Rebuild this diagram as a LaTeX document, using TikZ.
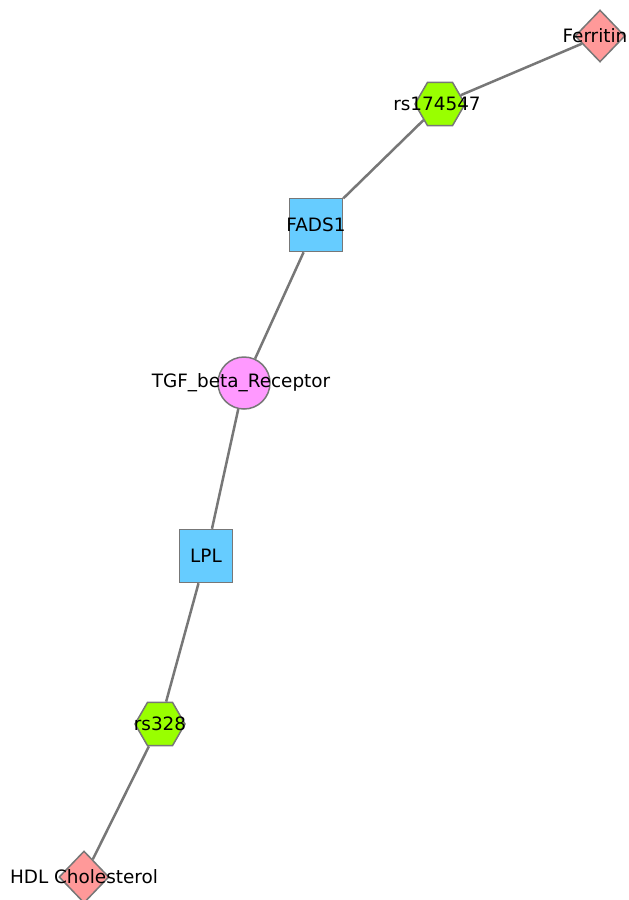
\documentclass[tikz,border=0pt]{standalone}
\usepackage{fontspec}
\setmainfont{DejaVu Sans}
\usetikzlibrary{shapes.geometric}

\definecolor{edgegray}{HTML}{777777}
\definecolor{traitpink}{HTML}{FF9999}
\definecolor{snpgreen}{HTML}{99FF00}
\definecolor{genesky}{HTML}{66CCFF}
\definecolor{pathviolet}{HTML}{FF99FF}

\begin{document}
\begin{tikzpicture}[
  x=1pt, y=-1pt,
  lbl/.style={font=\fontsize{18.4}{19}\selectfont, text=black, inner sep=0pt},
  trait/.style={draw=edgegray, line width=1.5pt, fill=traitpink, diamond, inner sep=0pt, minimum width=50pt, minimum height=52pt},
  snp/.style={draw=edgegray, line width=1.5pt, fill=snpgreen, regular polygon, regular polygon sides=6, inner sep=0pt, minimum size=50pt},
  gene/.style={draw=edgegray, line width=1.5pt, fill=genesky, rectangle, inner sep=0pt, minimum size=53pt},
  pathway/.style={draw=edgegray, line width=1.5pt, fill=pathviolet, circle, inner sep=0pt, minimum size=52pt},
  link/.style={draw=edgegray, line width=2.5pt}
]
\useasboundingbox (0,0) rectangle (629,900);

% trait -- snp -- gene -- pathway chain
\node[trait] (ferritin) at (600,36) {};
\node[snp] (rsA) at (440,104) {};
\node[gene] (fads) at (316,225) {};
\node[pathway] (tgf) at (244,383) {};
\node[gene] (lpl) at (206,556) {};
\node[snp] (rsB) at (160,724) {};
\node[trait] (hdl) at (84,877) {};

\draw[link] (ferritin) -- (rsA);
\draw[link] (rsA) -- (fads);
\draw[link] (fads) -- (tgf);
\draw[link] (tgf) -- (lpl);
\draw[link] (lpl) -- (rsB);
\draw[link] (rsB) -- (hdl);

% labels sit on top of the shapes
\node[lbl] (ferritinlbl) at (595,36) {Ferritin};
\node[lbl] (rsAlbl) at (437,104) {rs174547};
\node[lbl] (fadslbl) at (fads) {FADS1};
\node[lbl] (tgflbl) at (241,383) {TGF\_beta\_Receptor};
\node[lbl] (lpllbl) at (lpl) {LPL};
\node[lbl] (rsBlbl) at (rsB) {rs328};
\node[lbl] (hdllbl) at (hdl) {HDL Cholesterol};
\end{tikzpicture}
\end{document}
